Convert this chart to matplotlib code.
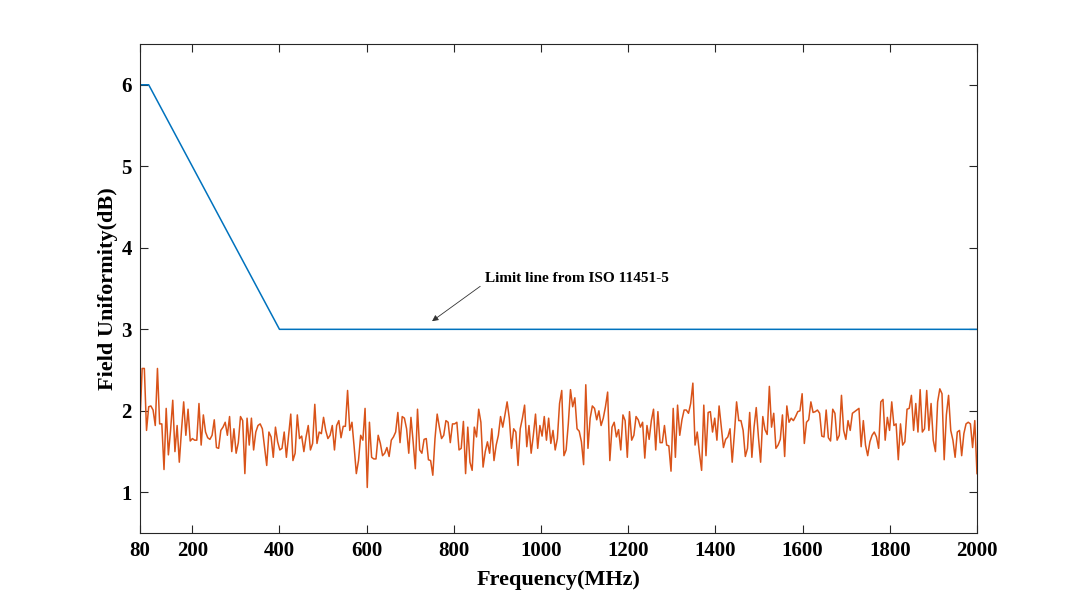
import numpy as np
import matplotlib
matplotlib.use("Agg")
import matplotlib.pyplot as plt

plt.rcParams["font.family"] = ["Liberation Serif", "DejaVu Serif"]
plt.rcParams["font.weight"] = "bold"

# ISO 11451-5 limit line (corner points)
limit_freq = [80, 100, 400, 2000]
limit_db = [6, 6, 3, 3]

field_uniformity = [
    1.86, 2.52, 2.52, 1.76, 2.05, 2.06, 2.01, 1.82, 2.52, 1.84,
    1.84, 1.28, 2.03, 1.46, 1.76, 2.13, 1.50, 1.82, 1.37, 1.76,
    2.11, 1.70, 2.02, 1.63, 1.66, 1.64, 1.64, 2.09, 1.58, 1.95,
    1.74, 1.67, 1.65, 1.70, 1.89, 1.55, 1.54, 1.76, 1.80, 1.86,
    1.70, 1.93, 1.50, 1.78, 1.48, 1.61, 1.93, 1.88, 1.23, 1.91,
    1.58, 1.91, 1.52, 1.74, 1.82, 1.84, 1.78, 1.56, 1.33, 1.74,
    1.68,
    1.43, 1.80, 1.62, 1.52, 1.54, 1.74, 1.43, 1.70, 1.96, 1.39,
    1.48, 1.95, 1.66, 1.69, 1.50, 1.68, 1.82, 1.52, 1.60, 2.08,
    1.60, 1.74, 1.72, 1.92, 1.76, 1.66, 1.70, 1.82, 1.52, 1.82,
    1.88, 1.67, 1.81, 1.81, 2.25, 1.76, 1.86, 1.56, 1.23, 1.39,
    1.70, 1.64, 2.03, 1.06, 1.86, 1.43, 1.41, 1.41, 1.70, 1.60,
    1.45, 1.48, 1.55, 1.44, 1.64, 1.68, 1.74, 1.98, 1.61, 1.93,
    1.91, 1.78, 1.48, 1.92,
    1.62, 1.29, 2.02, 1.52, 1.48, 1.65, 1.66, 1.40, 1.39, 1.21,
    1.66, 1.96, 1.80, 1.66, 1.70, 1.88, 1.86, 1.61, 1.84, 1.84,
    1.86, 1.52, 1.54, 1.87, 1.23, 1.80, 1.37, 1.27, 1.80, 1.68,
    2.02, 1.86, 1.31, 1.50, 1.62, 1.48, 1.78, 1.39, 1.58, 1.70,
    1.93, 1.80, 1.95, 2.11, 1.91, 1.54, 1.78, 1.74, 1.33, 1.78,
    1.91, 2.07, 1.56, 1.82, 1.48, 1.70, 1.96, 1.54, 1.82, 1.69,
    1.93, 1.64, 1.91, 1.60, 1.76,
    1.52, 1.66, 2.09, 2.25, 1.45, 1.52, 1.84, 2.26, 2.05, 2.16,
    1.78, 1.75, 1.62, 1.34, 2.32, 1.54, 1.91, 2.06, 2.03, 1.89,
    2.00, 1.82, 1.91, 2.05, 2.23, 1.39, 1.80, 1.86, 1.68, 1.77,
    1.52, 1.95, 1.88, 1.43, 1.99, 1.64, 1.70, 1.93, 1.89, 1.80,
    1.86, 1.42, 1.82, 1.65, 1.88, 2.02, 1.52, 1.99, 1.61, 1.61,
    1.82, 1.58, 1.57, 1.26, 2.03, 1.43, 2.07, 1.70, 1.89, 2.01,
    2.01, 1.97, 2.09, 2.34,
    1.58, 1.74, 1.48, 1.27, 2.07, 1.45, 1.98, 1.99, 1.74, 1.91,
    1.64, 2.06, 1.80, 1.55, 1.65, 1.68, 1.78, 1.37, 1.72, 2.11,
    1.88, 1.88, 1.76, 1.44, 1.54, 1.98, 1.43, 1.80, 2.04, 1.68,
    1.37, 1.93, 1.77, 1.71, 2.30, 1.80, 1.97, 1.54, 1.58, 1.65,
    1.95, 1.44, 2.06, 1.86, 1.91, 1.88, 1.93, 1.99, 2.00, 2.21,
    1.60, 1.86, 1.89, 2.11, 1.98, 1.99, 2.01, 1.97, 1.69, 1.68,
    2.01, 1.67, 1.63, 2.02,
    1.97, 1.64, 1.70, 2.19, 1.76, 1.65, 1.88, 1.76, 1.97, 1.99,
    2.01, 2.03, 1.56, 1.88, 1.58, 1.45, 1.62, 1.70, 1.74, 1.68,
    1.54, 2.11, 2.14, 1.64, 1.92, 1.76, 2.11, 1.82, 1.84, 1.40,
    1.84, 1.58, 1.62, 2.02, 2.03, 2.19, 1.76, 2.09, 1.74, 2.26,
    1.74, 1.78, 2.25, 1.76, 2.09, 1.64, 1.50, 2.11, 2.27, 2.21,
    1.40, 1.95, 2.19, 1.76, 1.64, 1.43, 1.74, 1.76, 1.45, 1.72,
    1.84, 1.86, 1.84, 1.55, 1.88, 1.23,
]
meas_freq = np.linspace(80, 2000, len(field_uniformity))

x_ticks = [80, 200, 400, 600, 800, 1000, 1200, 1400, 1600, 1800, 2000]
y_ticks = [1, 2, 3, 4, 5, 6]

fig = plt.figure(figsize=(10.8, 5.99), dpi=100)
ax = fig.add_axes([0.1296, 0.110, 0.775, 0.8165])

ax.plot(limit_freq, limit_db, color="#0072BD", linewidth=1.1)
ax.plot(meas_freq, field_uniformity, color="#D95319", linewidth=1.1)

ax.annotate("Limit line from ISO 11451-5", xy=(750, 3.1), xytext=(872, 3.62),
            fontsize=11, fontweight="bold", ha="left", va="center",
            arrowprops=dict(arrowstyle="-|>", color="#333333", lw=0.6,
                            mutation_scale=9, relpos=(0, 0.2), shrinkA=2, shrinkB=0))

ax.set_xlim(80, 2000)
ax.set_ylim(0.5, 6.5)
ax.set_xticks(x_ticks)
ax.set_yticks(y_ticks)
ax.tick_params(direction="in", top=True, right=True, length=6, width=0.8,
               labelsize=15, color="#262626", pad=6)
for lab in ax.get_xticklabels() + ax.get_yticklabels():
    lab.set_fontweight("bold")
for sp in ax.spines.values():
    sp.set_color("#262626")
    sp.set_linewidth(0.8)

ax.set_xlabel("Frequency(MHz)", fontsize=16, fontweight="bold", labelpad=6)
ax.set_ylabel("Field Uniformity(dB)", fontsize=16, fontweight="bold", labelpad=2)

fig.savefig("out.png", dpi=100)
